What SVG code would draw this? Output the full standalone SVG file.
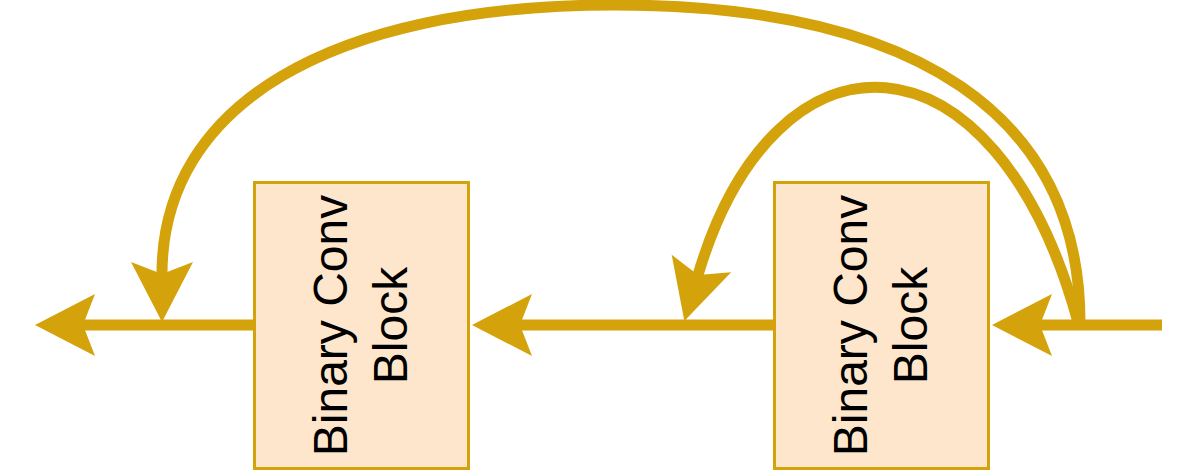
<svg xmlns="http://www.w3.org/2000/svg" width="1204" height="476" viewBox="0 0 1204 476">
<style>
.box{fill:#fde6cc;stroke:#d4a20a;stroke-width:3}
.lbl{font-family:"Liberation Sans",Arial,sans-serif;font-size:48px;fill:#000;text-anchor:middle}
.edge{fill:none;stroke:#d4a20a;stroke-width:11}
</style>
<defs>
<marker id="arr" markerUnits="userSpaceOnUse" markerWidth="64" markerHeight="66" refX="14" refY="33" orient="auto" viewBox="0 0 64 66">
<path d="M2,2 L62,33 L2,64 L14,33 Z" fill="#d4a20a"/>
</marker>
</defs>
<rect width="1204" height="476" fill="#fff"/>
<g id="block1">
<rect class="box" x="254.5" y="182.5" width="214" height="286"/>
<text class="lbl" transform="translate(347,325.5) rotate(-90)">Binary Conv</text>
<text class="lbl" transform="translate(407,325.5) rotate(-90)">Block</text>
</g>
<g id="block2">
<rect class="box" x="774.5" y="182.5" width="214" height="286"/>
<text class="lbl" transform="translate(867,325.5) rotate(-90)">Binary Conv</text>
<text class="lbl" transform="translate(927,325.5) rotate(-90)">Block</text>
</g>
<g id="connectors">
<path class="edge" d="M1162,325 L1040,325" marker-end="url(#arr)"/>
<path class="edge" d="M773,325 L520,325" marker-end="url(#arr)"/>
<path class="edge" d="M253,325 L83,325" marker-end="url(#arr)"/>
<path class="edge" d="M1080,322 C1080,116 917,5 615,5 C330,5 162,105 162,274" marker-end="url(#arr)"/>
<path class="edge" d="M1078,322 C995,20 775,15 698,275" marker-end="url(#arr)"/>
</g>
</svg>
